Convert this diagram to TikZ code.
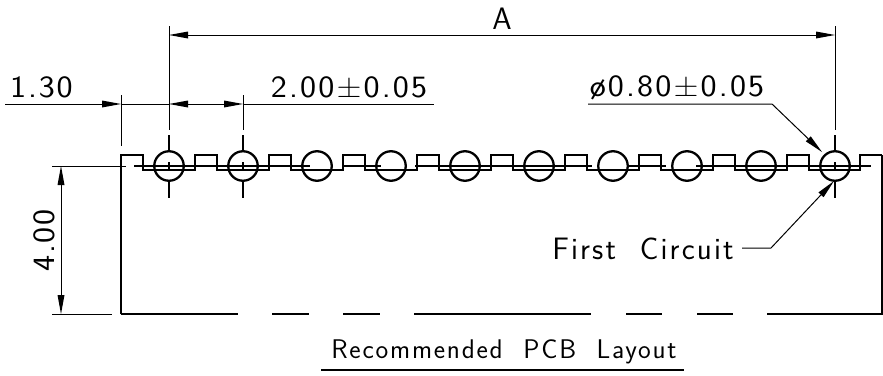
\documentclass[tikz,border=0pt]{standalone}
\usepackage{fontspec}
\setsansfont{Latin Modern Sans}
\usetikzlibrary{arrows.meta}
\newcommand{\lbl}[3]{\fontsize{#1}{#1}\selectfont\addfontfeature{LetterSpace=#2,FakeStretch=#3}}
\tikzset{
  x=1pt,y=-1pt,
  thick line/.style={line width=2.2pt,line cap=butt,line join=miter},
  thin line/.style={line width=1pt},
  center line/.style={line width=1.4pt},
  tip/.style={-{Stealth[length=19pt,width=7pt,inset=0pt,line width=0pt]}},
  tipboth/.style={{Stealth[length=19pt,width=7pt,inset=0pt,line width=0pt]}-{Stealth[length=19pt,width=7pt,inset=0pt,line width=0pt]}},
  caption/.style={inner sep=0pt,outer sep=0pt,font=\sffamily,anchor=center},
}
\begin{document}
\begin{tikzpicture}
\useasboundingbox (0,0) rectangle (883,375);
% holes
\foreach \i/\x in {1/169,2/243,3/317,4/391,5/465,6/539,7/613,8/687,9/761,10/835}{
  \node[circle,draw,line width=2.3pt,minimum size=29.5pt,inner sep=0pt] (h\i) at (\x,166) {};
}
% outline
\draw[thick line] (121,314) -- (121,155) -- (143,155) -- (143,170)
  \foreach \x in {195,269,343,417,491,565,639,713,787}{ -- (\x,170) -- (\x,155) -- (\x+22,155) -- (\x+22,170) }
  -- (860,170) -- (860,155) -- (882,155);
\draw[line width=1.2pt] (882,155) -- (882,314);
\foreach \a/\b in {121/238,272/309,343/380,414/591,626/662,697/733,767/883}
  \draw[thick line] (\a,314) -- (\b,314);
% horizontal centre line
\foreach \a/\b in {134/310,343/381,415/592,629/666,696/871}
  \draw[center line] (\a,166) -- (\b,166);
% vertical centre lines
\foreach \x in {169,243,835}{
  \draw[center line] (\x,135) -- (\x,151);
  \draw[center line] (\x,162) -- (\x,170);
  \draw[center line] (\x,181) -- (\x,198);
}
% extension lines
\draw[thin line] (169,26) -- (169,130);
\draw[thin line] (835,26) -- (835,130);
\draw[thin line] (243,95) -- (243,130);
\draw[thin line] (121,95) -- (121,146);
\draw[thin line] (52,166) -- (126,166);
\draw[thin line] (52,314) -- (112,314);
% dimensions
\draw[thin line,tipboth] (169,35) -- (835,35);
\draw[thin line,tip] (5,104) -- (121,104);
\draw[thin line] (121,104) -- (169,104);
\draw[thin line,tipboth] (169,104) -- (243,104);
\draw[thin line] (243,104) -- (434,104);
\draw[thin line,tipboth] (61,166) -- (61,314);
% leaders
\draw[thin line,tip] (588,104) -- (772,104) -- (822,152);
\draw[thin line,tip] (742,248) -- (771,248) -- (834,181);
% texts
\node[caption] (ta) at (502,18.5) {\lbl{31}{0}{1}A};
\node[caption] (t130) at (41.5,87.5) {\lbl{31}{6}{1.1}1.30};
\node[caption] (t200) at (349,87.5) {\lbl{31}{7}{1.1}2.00±0.05};
\node[caption] (t080) at (677,87.5) {\lbl{31}{7}{1.1}ø0.80±0.05};
\node[caption,rotate=90] (t400) at (44,240.5) {\lbl{31}{6}{1.1}4.00};
\node[caption] (tfc) at (643,248.5) {\lbl{31}{7}{1}First\ \ Circuit};
\node[caption] (trec) at (504,352) {\lbl{27}{6.6}{1}Recommended\ \ PCB\ \ Layout};
\draw[line width=2.8pt] (321,370) -- (684,370);
\end{tikzpicture}
\end{document}
